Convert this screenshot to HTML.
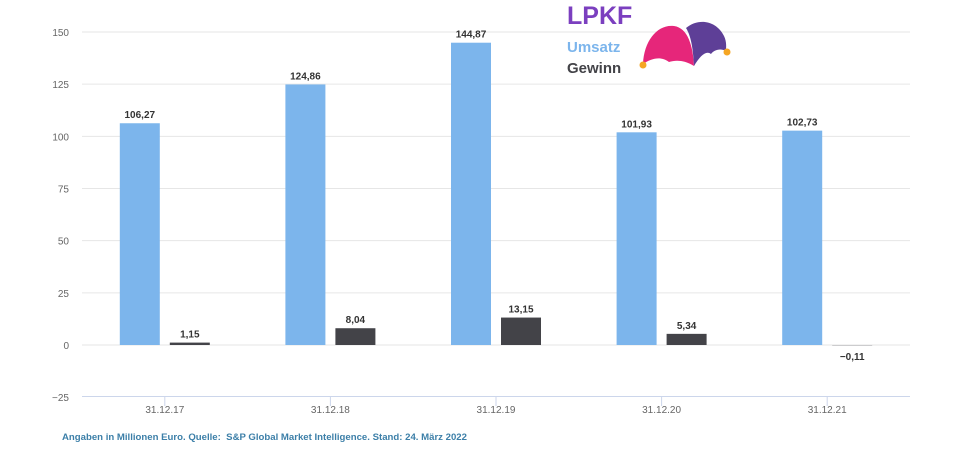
<!DOCTYPE html>
<html><head><meta charset="utf-8"><style>
body{margin:0;background:#fff;width:961px;height:450px;overflow:hidden;font-family:"Liberation Sans","DejaVu Sans",sans-serif}
</style></head><body>
<svg id="chart" width="961" height="450" xmlns="http://www.w3.org/2000/svg"></svg>
<script>
const categories=["31.12.17","31.12.18","31.12.19","31.12.20","31.12.21"];
const umsatz=[106.27,124.86,144.87,101.93,102.73];
const gewinn=[1.15,8.04,13.15,5.34,-0.11];
const yTicks=[150,125,100,75,50,25,0,-25];
const NS="http://www.w3.org/2000/svg";
const svg=document.getElementById('chart');
const X0=82,X1=910,Y0=345,PX=(345-32)/150;
const y=v=>Y0-v*PX;
const bw=(X1-X0)/categories.length;
const cx=i=>X0+bw*(i+0.5);
function el(t,a,txt){const e=document.createElementNS(NS,t);for(const k in a)e.setAttribute(k,a[k]);if(txt!==undefined)e.textContent=txt;svg.appendChild(e);return e;}
const fmt=v=>(v<0?"−":"")+Math.abs(v).toFixed(2).replace('.',',');
yTicks.forEach(t=>{
 if(t>-25){const g=el('line',{x1:X0,x2:X1,y1:y(t),y2:y(t),stroke:'#e6e6e6','stroke-width':1});
 
 }
 const l=el('text',{x:69,y:y(t)+4,'text-anchor':'end','font-size':10,fill:'#666'},(t<0?"−":"")+Math.abs(t));
 
 
});
const ax=el('line',{x1:X0,x2:X1,y1:396.5,y2:396.5,stroke:'#ccd6eb','stroke-width':1});


categories.forEach((c,i)=>{
 const tk=el('line',{x1:cx(i),x2:cx(i),y1:396,y2:406,stroke:'#ccd6eb'});
 
 
 const tl=el('text',{x:cx(i),y:413,'text-anchor':'middle','font-size':10,fill:'#666'},c);
 
 
 const u=umsatz[i];
 const b=el('rect',{x:cx(i)-45,y:Math.min(y(u),Y0),width:40,height:Math.abs(y(u)-Y0),fill:'#7cb5ec'});
 
 
 const bl=el('text',{x:cx(i)-25,y:y(u)-5,'text-anchor':'middle','font-size':10,'font-weight':'bold',fill:'#333'},fmt(u));
 
 
 const g=gewinn[i];
 const d=el('rect',{x:cx(i)+5,y:Math.min(y(g),Y0),width:40,height:Math.abs(y(g)-Y0),fill:'#434348'});
 
 
 const ly=g>=0?y(g)-5:Y0+15;
 const dl=el('text',{x:cx(i)+25,y:ly,'text-anchor':'middle','font-size':10,'font-weight':'bold',fill:'#333'},fmt(g));
 
 
});
</script>
<div style="position:absolute;left:567px;top:4px;line-height:1">
 <div style="font-size:25px;font-weight:bold;color:#7b3fbf;height:30px">LPKF</div>
 <div style="font-size:15px;font-weight:bold;color:#7cb5ec;margin-top:6px">Umsatz</div>
 <div style="font-size:15px;font-weight:bold;color:#434348;margin-top:6px">Gewinn</div>
</div>
<svg style="position:absolute;left:636px;top:18px" width="100" height="52">
 <path d="M7,46 C8,22 22,6 38,8 C52,10 57,28 58,48 C48,42 40,42 33,44 C25,38 16,40 7,46Z" fill="#e6267a"/>
 <path d="M50,10 C62,0 80,2 88,18 C91,24 90,30 90,33 C84,30 78,32 75,36 C70,32 64,38 58,48 C57,30 55,18 50,10Z" fill="#5e3f97"/>
 <circle cx="7" cy="47" r="3.5" fill="#f5a623"/>
 <circle cx="91" cy="34" r="3.5" fill="#f5a623"/>
</svg>
<div style="position:absolute;left:62px;top:432px;font-size:9.6px;font-weight:bold;color:#3c7fa8">Angaben in Millionen Euro. Quelle:&nbsp; S&amp;P Global Market Intelligence. Stand: 24. März 2022</div>
</body></html>
